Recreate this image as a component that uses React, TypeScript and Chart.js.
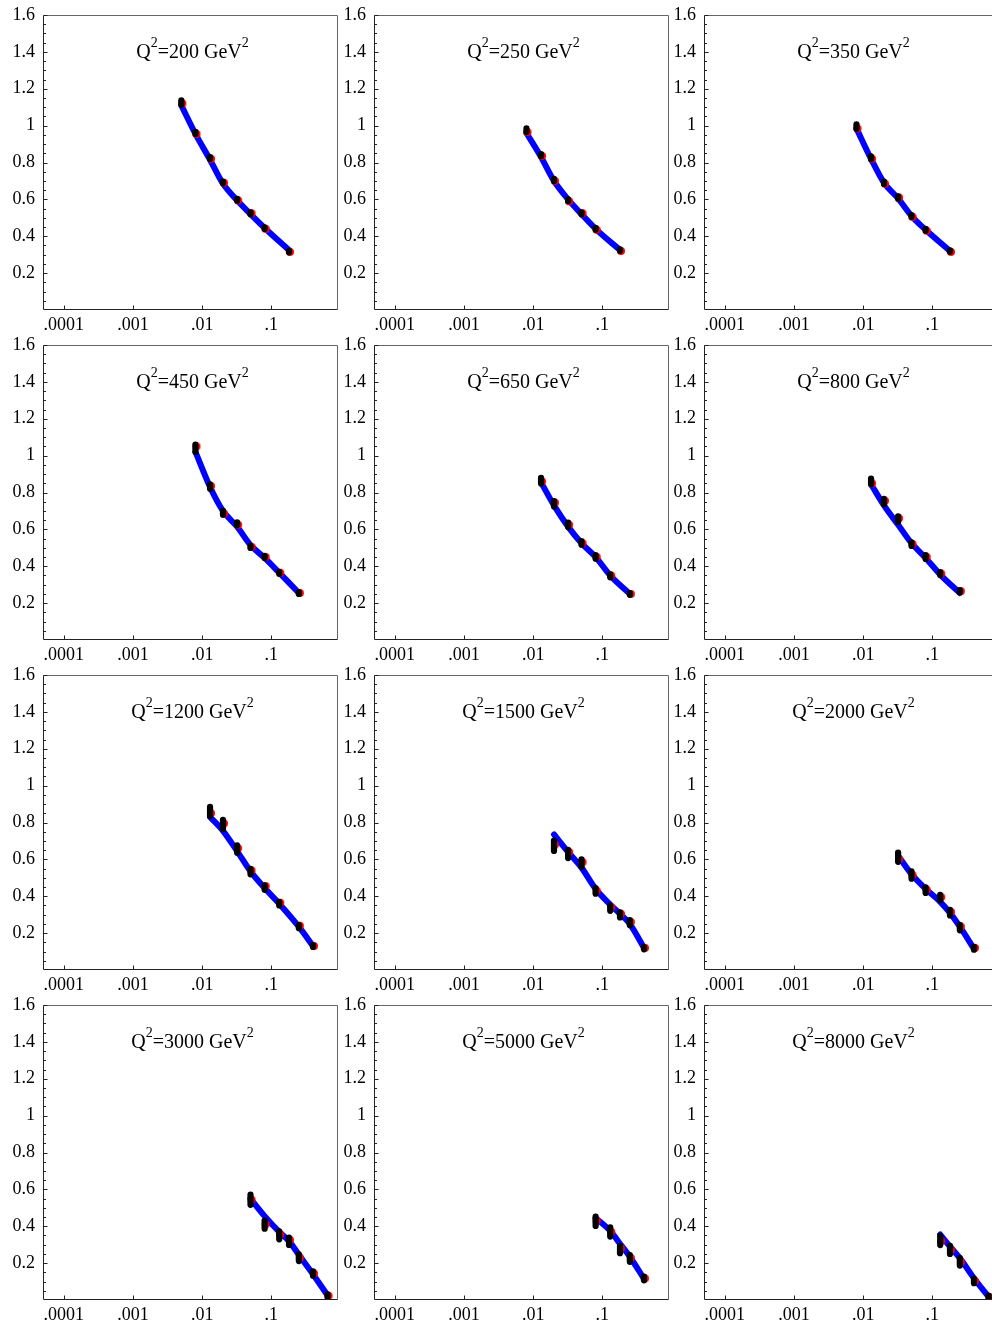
import React, { useEffect, useRef } from "react";
import { Chart, registerables } from "chart.js";

Chart.register(...registerables);

// ---------- data ----------
const Q2 = [200, 250, 350, 450, 650, 800, 1200, 1500, 2000, 3000, 5000, 8000];

const xBins = [
  [0.005, 0.008, 0.013, 0.02, 0.032, 0.05, 0.08, 0.18],
  [0.008, 0.013, 0.02, 0.032, 0.05, 0.08, 0.18],
  [0.008, 0.013, 0.02, 0.032, 0.05, 0.08, 0.18],
  [0.008, 0.013, 0.02, 0.032, 0.05, 0.08, 0.13, 0.25],
  [0.013, 0.02, 0.032, 0.05, 0.08, 0.13, 0.25],
  [0.013, 0.02, 0.032, 0.05, 0.08, 0.13, 0.25],
  [0.013, 0.02, 0.032, 0.05, 0.08, 0.13, 0.25, 0.4],
  [0.02, 0.032, 0.05, 0.08, 0.13, 0.18, 0.25, 0.4],
  [0.032, 0.05, 0.08, 0.13, 0.18, 0.25, 0.4],
  [0.05, 0.08, 0.13, 0.18, 0.25, 0.4, 0.65],
  [0.08, 0.13, 0.18, 0.25, 0.4],
  [0.13, 0.18, 0.25, 0.4, 0.65],
];

const dataY = [
  [1.125, 0.96, 0.824, 0.692, 0.598, 0.525, 0.444, 0.317],
  [0.975, 0.84, 0.705, 0.595, 0.525, 0.44, 0.325],
  [0.995, 0.826, 0.69, 0.61, 0.51, 0.435, 0.32],
  [1.04, 0.832, 0.69, 0.63, 0.505, 0.451, 0.364, 0.255],
  [0.864, 0.739, 0.625, 0.527, 0.451, 0.348, 0.25],
  [0.86, 0.75, 0.655, 0.52, 0.45, 0.36, 0.265],
  [0.86, 0.79, 0.656, 0.534, 0.447, 0.36, 0.235, 0.13],
  [0.674, 0.629, 0.58, 0.429, 0.335, 0.299, 0.257, 0.118],
  [0.612, 0.515, 0.433, 0.393, 0.311, 0.23, 0.118],
  [0.544, 0.409, 0.351, 0.319, 0.229, 0.144, 0.023],
  [0.427, 0.369, 0.274, 0.225, 0.117],
  [0.323, 0.272, 0.207, 0.103, 0.016],
];

const dataErr = [
  [0.012, 0.006, 0.005, 0.005, 0.005, 0.005, 0.004, 0.004],
  [0.01, 0.006, 0.006, 0.005, 0.005, 0.005, 0.004],
  [0.012, 0.008, 0.006, 0.006, 0.005, 0.005, 0.004],
  [0.02, 0.012, 0.01, 0.008, 0.006, 0.006, 0.005, 0.005],
  [0.015, 0.015, 0.012, 0.01, 0.01, 0.008, 0.005],
  [0.015, 0.015, 0.015, 0.01, 0.01, 0.008, 0.006],
  [0.025, 0.025, 0.02, 0.015, 0.012, 0.01, 0.008, 0.005],
  [0.028, 0.022, 0.02, 0.015, 0.014, 0.014, 0.014, 0.006],
  [0.025, 0.02, 0.015, 0.015, 0.015, 0.015, 0.008],
  [0.028, 0.022, 0.022, 0.02, 0.018, 0.012, 0.008],
  [0.025, 0.025, 0.02, 0.018, 0.01],
  [0.025, 0.022, 0.02, 0.012, 0.008],
];

const redY = [
  [1.12, 0.955, 0.82, 0.69, 0.595, 0.525, 0.44, 0.315],
  [0.965, 0.835, 0.7, 0.59, 0.525, 0.435, 0.32],
  [0.985, 0.82, 0.685, 0.61, 0.505, 0.43, 0.315],
  [1.05, 0.835, 0.685, 0.625, 0.505, 0.45, 0.365, 0.255],
  [0.86, 0.745, 0.625, 0.525, 0.45, 0.35, 0.25],
  [0.85, 0.755, 0.66, 0.52, 0.45, 0.36, 0.265],
  [0.85, 0.795, 0.66, 0.54, 0.455, 0.365, 0.24, 0.13],
  [0.68, 0.64, 0.585, 0.43, 0.34, 0.305, 0.26, 0.12],
  [0.6, 0.515, 0.435, 0.395, 0.315, 0.235, 0.12],
  [0.544, 0.41, 0.355, 0.326, 0.229, 0.144, 0.023],
  [0.43, 0.37, 0.28, 0.228, 0.117],
  [0.319, 0.27, 0.205, 0.103, 0.016],
];

const fitY = [
  [1.11, 0.955, 0.815, 0.685, 0.595, 0.52, 0.445, 0.325],
  [0.96, 0.83, 0.7, 0.6, 0.52, 0.44, 0.325],
  [0.985, 0.82, 0.69, 0.605, 0.51, 0.435, 0.32],
  [1.02, 0.83, 0.7, 0.615, 0.515, 0.445, 0.365, 0.255],
  [0.855, 0.73, 0.615, 0.525, 0.45, 0.35, 0.25],
  [0.845, 0.73, 0.625, 0.525, 0.445, 0.355, 0.255],
  [0.83, 0.755, 0.645, 0.535, 0.445, 0.36, 0.235, 0.13],
  [0.735, 0.64, 0.555, 0.44, 0.355, 0.305, 0.25, 0.12],
  [0.62, 0.52, 0.44, 0.37, 0.31, 0.235, 0.115],
  [0.55, 0.455, 0.37, 0.32, 0.245, 0.14, 0.025],
  [0.445, 0.375, 0.305, 0.235, 0.115],
  [0.355, 0.29, 0.227, 0.118, 0.018],
];

const xTickValues = [0.0001, 0.001, 0.01, 0.1];
const xTickLabels = [".0001", ".001", ".01", ".1"];
const yTickValues = [0.2, 0.4, 0.6, 0.8, 1.0, 1.2, 1.4, 1.6];
const yTickLabels = ["0.2", "0.4", "0.6", "0.8", "1", "1.2", "1.4", "1.6"];
const yMinorTicks = [
  0.05, 0.1, 0.15, 0.25, 0.3, 0.35, 0.45, 0.5, 0.55, 0.65, 0.7, 0.75, 0.85,
  0.9, 0.95, 1.05, 1.1, 1.15, 1.25, 1.3, 1.35, 1.45, 1.5, 1.55,
];

// ---------- layout / style ----------
const X_MIN = 0.00005;
const X_MAX = 0.92;
const Y_MIN = 0;
const Y_MAX = 1.6;
const PAD_TOP = 15;
const AREA = 295;
const Y_AXIS_W = 43;
const CANVAS_W = 340;
const CANVAS_H = 331;
const COL_STEP = 330.6;
const ROW_STEP = 330;
const FONT = '"Liberation Serif", "Times New Roman", serif';

// red dot sprite: circle drawn slightly right of the sprite centre
function makeRedDot(): HTMLCanvasElement {
  const c = document.createElement("canvas");
  c.width = 14;
  c.height = 14;
  const g = c.getContext("2d") as CanvasRenderingContext2D;
  g.fillStyle = "#ff0000";
  g.beginPath();
  g.arc(8.0, 7, 4.0, 0, Math.PI * 2);
  g.fill();
  return c;
}

const panelPlugin = {
  id: "panelDeco",
  afterDatasetsDraw(chart: any) {
    const idx = chart.options.plugins.panelDeco.idx;
    const { ctx, chartArea } = chart;
    const xs = chart.scales.x;
    const ys = chart.scales.y;
    ctx.save();
    ctx.beginPath();
    ctx.rect(chartArea.left, chartArea.top, chartArea.right - chartArea.left, chartArea.bottom - chartArea.top);
    ctx.clip();
    ctx.strokeStyle = "#000000";
    ctx.lineWidth = 6.2;
    ctx.lineCap = "round";
    xBins[idx].forEach((xv: number, i: number) => {
      const px = xs.getPixelForValue(xv);
      const y1 = ys.getPixelForValue(dataY[idx][i] + dataErr[idx][i]);
      const y2 = ys.getPixelForValue(dataY[idx][i] - dataErr[idx][i]);
      ctx.beginPath();
      ctx.moveTo(px, y1);
      ctx.lineTo(px, y2 + 0.01);
      ctx.stroke();
    });
    ctx.restore();
  },
  afterDraw(chart: any) {
    const idx = chart.options.plugins.panelDeco.idx;
    const { ctx, chartArea } = chart;
    const xs = chart.scales.x;
    const ys = chart.scales.y;
    const L = Math.round(chartArea.left) + 0.5;
    const R = Math.round(chartArea.right) - 0.5;
    const T = Math.round(chartArea.top) + 0.5;
    const B = Math.round(chartArea.bottom) - 0.5;
    ctx.save();
    ctx.lineWidth = 1;
    ctx.strokeStyle = "#666666";
    ctx.beginPath();
    ctx.moveTo(L, T);
    ctx.lineTo(R, T);
    ctx.lineTo(R, B);
    ctx.stroke();
    ctx.strokeStyle = "#222222";
    ctx.beginPath();
    ctx.moveTo(L, T);
    ctx.lineTo(L, B);
    ctx.lineTo(R, B);
    ctx.stroke();
    ctx.beginPath();
    yTickValues.forEach((v) => {
      const py = Math.round(ys.getPixelForValue(v)) + 0.5;
      ctx.moveTo(L, py);
      ctx.lineTo(L + 4, py);
    });
    yMinorTicks.forEach((v) => {
      const py = Math.round(ys.getPixelForValue(v)) + 0.5;
      ctx.moveTo(L, py);
      ctx.lineTo(L + 2.5, py);
    });
    xTickValues.forEach((v) => {
      const px = Math.round(xs.getPixelForValue(v)) + 0.5;
      ctx.moveTo(px, B);
      ctx.lineTo(px, B - 4);
    });
    ctx.stroke();

    // title  Q^2=... GeV^2
    const mainFont = `20px ${FONT}`;
    const supFont = `14px ${FONT}`;
    const parts = [
      { t: "Q", sup: false },
      { t: "2", sup: true },
      { t: `=${Q2[idx]} GeV`, sup: false },
      { t: "2", sup: true },
    ];
    let total = 0;
    const widths = parts.map((p) => {
      ctx.font = p.sup ? supFont : mainFont;
      const w = ctx.measureText(p.t).width;
      total += w;
      return w;
    });
    let cx = (chartArea.left + chartArea.right) / 2 - total / 2 + 2;
    const baseY = chartArea.top + 42.5;
    ctx.fillStyle = "#000000";
    ctx.textBaseline = "alphabetic";
    ctx.textAlign = "left";
    parts.forEach((p, i) => {
      ctx.font = p.sup ? supFont : mainFont;
      ctx.fillText(p.t, cx, p.sup ? baseY - 11 : baseY);
      cx += widths[i];
    });
    ctx.restore();
  },
};

function Panel({ idx }: { idx: number }) {
  const ref = useRef<HTMLCanvasElement>(null);
  const col = idx % 3;
  const row = Math.floor(idx / 3);
  useEffect(() => {
    const xs = xBins[idx];
    const redDot = makeRedDot();
    const chart = new Chart(ref.current as HTMLCanvasElement, {
      type: "scatter",
      data: {
        datasets: [
          {
            label: "data",
            data: xs.map((x, i) => ({ x, y: dataY[idx][i] })),
            pointRadius: 0,
            showLine: false,
            order: 0,
          },
          {
            label: "red",
            data: xs.map((x, i) => ({ x, y: redY[idx][i] })),
            pointStyle: redDot,
            pointRadius: 5,
            showLine: false,
            order: 1,
          } as any,
          {
            label: "fit",
            data: xs.map((x, i) => ({ x, y: fitY[idx][i] })),
            showLine: true,
            borderColor: "#0000ff",
            borderWidth: 6,
            borderCapStyle: "round",
            borderJoinStyle: "round",
            cubicInterpolationMode: "monotone",
            pointRadius: 0,
            order: 2,
          } as any,
        ],
      },
      options: {
        responsive: false,
        animation: false,
        devicePixelRatio: 1,
        events: [],
        layout: {
          autoPadding: false,
          padding: { top: PAD_TOP, right: CANVAS_W - Y_AXIS_W - AREA, left: 0, bottom: 0 },
        },
        plugins: {
          legend: { display: false },
          tooltip: { enabled: false },
          title: { display: false },
          panelDeco: { idx },
        } as any,
        scales: {
          x: {
            type: "logarithmic",
            min: X_MIN,
            max: X_MAX,
            grid: { display: false, drawTicks: false },
            border: { display: false },
            afterBuildTicks: (s: any) => {
              s.ticks = xTickValues.map((v) => ({ value: v }));
            },
            afterFit: (s: any) => {
              s.height = CANVAS_H - PAD_TOP - AREA;
              s.paddingLeft = 0;
              s.paddingRight = 0;
              s.paddingTop = 0;
              s.paddingBottom = 0;
            },
            ticks: {
              autoSkip: false,
              maxRotation: 0,
              minRotation: 0,
              padding: 4,
              color: "#000000",
              font: { family: FONT, size: 18 },
              callback: (_v: any, i: number) => xTickLabels[i],
            },
          },
          y: {
            type: "linear",
            min: Y_MIN,
            max: Y_MAX,
            grid: { display: false, drawTicks: false },
            border: { display: false },
            afterBuildTicks: (s: any) => {
              s.ticks = yTickValues.map((v) => ({ value: v }));
            },
            afterFit: (s: any) => {
              s.width = Y_AXIS_W;
              s.paddingTop = 0;
              s.paddingBottom = 0;
              s.paddingLeft = 0;
              s.paddingRight = 0;
            },
            ticks: {
              autoSkip: false,
              padding: 8,
              color: "#000000",
              font: { family: FONT, size: 18 },
              callback: (_v: any, i: number) => yTickLabels[i],
            },
          },
        },
      } as any,
      plugins: [panelPlugin],
    });
    return () => chart.destroy();
  }, [idx]);
  return (
    <canvas
      ref={ref}
      width={CANVAS_W}
      height={CANVAS_H}
      style={{
        position: "absolute",
        left: Math.round(COL_STEP * col),
        top: ROW_STEP * row,
        width: CANVAS_W,
        height: CANVAS_H,
      }}
    />
  );
}

export default function App() {
  return (
    <div
      style={{
        position: "absolute",
        left: 0,
        top: 0,
        width: 992,
        height: 1326,
        overflow: "hidden",
        background: "#ffffff",
      }}
    >
      {Q2.map((_q, i) => (
        <Panel key={i} idx={i} />
      ))}
    </div>
  );
}
